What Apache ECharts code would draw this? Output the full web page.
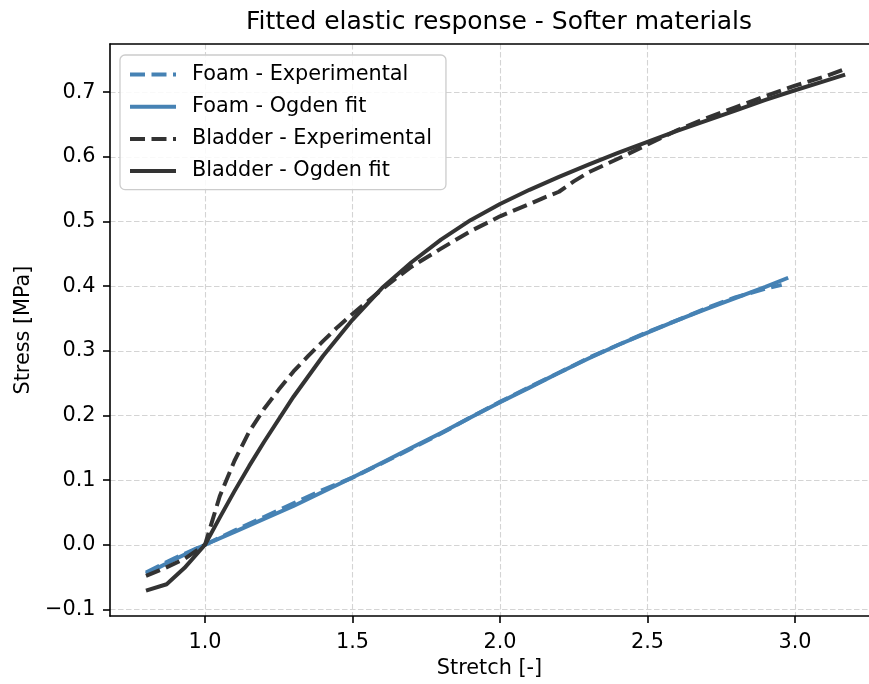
<!DOCTYPE html>
<html>
<head>
<meta charset="utf-8">
<script src="https://cdn.jsdelivr.net/npm/echarts@6/dist/echarts.min.js"></script>
<style>
  html, body { margin: 0; padding: 0; background: #fff; }
  #chart { width: 869px; height: 684px; }
</style>
</head>
<body>
<div id="chart"></div>
<script>
// ---- Data ----
const foamExpStretch = [0.80, 0.90, 1.00, 1.10, 1.20, 1.30, 1.40, 1.50, 1.60, 1.70, 1.80, 1.90, 2.00, 2.10, 2.20, 2.30, 2.40, 2.50, 2.60, 2.70, 2.80, 2.90, 2.955];
const foamExpStress  = [-0.043, -0.020, 0.000, 0.022, 0.043, 0.064, 0.085, 0.104, 0.126, 0.149, 0.172, 0.197, 0.221, 0.244, 0.266, 0.289, 0.309, 0.329, 0.347, 0.366, 0.383, 0.396, 0.402];

const foamFitStretch = [0.80, 0.90, 1.00, 1.10, 1.20, 1.30, 1.40, 1.50, 1.60, 1.70, 1.80, 1.90, 2.00, 2.10, 2.20, 2.30, 2.40, 2.50, 2.60, 2.70, 2.80, 2.90, 2.977];
const foamFitStress  = [-0.045, -0.022, 0.000, 0.020, 0.040, 0.060, 0.082, 0.104, 0.127, 0.150, 0.173, 0.197, 0.2205, 0.243, 0.266, 0.288, 0.309, 0.328, 0.347, 0.365, 0.382, 0.399, 0.413];

const bladderExpStretch = [0.80, 0.86, 0.93, 1.00, 1.05, 1.10, 1.15, 1.20, 1.25, 1.30, 1.35, 1.40, 1.45, 1.50, 1.55, 1.60, 1.65, 1.70, 1.80, 1.90, 2.00, 2.10, 2.15, 2.20, 2.25, 2.30, 2.40, 2.50, 2.60, 2.70, 2.80, 2.90, 3.00, 3.10, 3.165];
const bladderExpStress  = [-0.048, -0.037, -0.022, 0.000, 0.075, 0.130, 0.175, 0.210, 0.240, 0.268, 0.292, 0.315, 0.337, 0.357, 0.376, 0.395, 0.413, 0.430, 0.458, 0.485, 0.508, 0.527, 0.537, 0.546, 0.562, 0.576, 0.597, 0.619, 0.641, 0.660, 0.677, 0.694, 0.710, 0.724, 0.735];

const bladderFitStretch = [0.80, 0.87, 0.93, 1.00, 1.05, 1.10, 1.15, 1.20, 1.30, 1.40, 1.50, 1.60, 1.70, 1.80, 1.90, 2.00, 2.10, 2.20, 2.30, 2.40, 2.50, 2.60, 2.70, 2.80, 2.90, 3.00, 3.10, 3.17];
const bladderFitStress  = [-0.071, -0.061, -0.036, 0.000, 0.042, 0.083, 0.122, 0.159, 0.229, 0.292, 0.348, 0.397, 0.437, 0.472, 0.502, 0.527, 0.549, 0.569, 0.588, 0.606, 0.623, 0.640, 0.656, 0.672, 0.688, 0.703, 0.717, 0.727];

const xTicks = [1.0, 1.5, 2.0, 2.5, 3.0];
const yTicks = [-0.1, 0.0, 0.1, 0.2, 0.3, 0.4, 0.5, 0.6, 0.7];

const seriesNames = ['Foam - Experimental', 'Foam - Ogden fit', 'Bladder - Experimental', 'Bladder - Ogden fit'];

// ---- Build chart ----
const FONT = 'DejaVu Sans';
const BLUE = '#4682B4';
const DARK = '#333333';
const DASH = [15, 6.5];
const GRID_DASH = [5.5, 2.5];
const X_MIN = 0.678, X_MAX = 3.2509;
const Y_MIN = -0.1103, Y_MAX = 0.7745;

function pairs(xs, ys) { return xs.map((x, i) => [x, ys[i]]); }

function mkSeries(name, xs, ys, color, dashed, z) {
  return {
    type: 'line',
    name: name,
    data: pairs(xs, ys),
    symbol: 'none',
    smooth: false,
    z: z,
    lineStyle: { color: color, width: 4, type: dashed ? DASH : 'solid', cap: 'butt', join: 'round' },
    itemStyle: { color: color },
    emphasis: { disabled: true },
    animation: false
  };
}

const chart = echarts.init(document.getElementById('chart'), null, { renderer: 'canvas' });

const fmtY = v => (v < 0 ? '\u2212' : '') + Math.abs(v).toFixed(1);

chart.setOption({
  animation: false,
  backgroundColor: '#ffffff',
  title: {
    text: 'Fitted elastic response - Softer materials',
    left: 494,
    top: 5,
    textAlign: 'center',
    textStyle: { fontFamily: FONT, fontSize: 25, fontWeight: 'normal', color: '#000' }
  },
  legend: {
    show: true,
    data: seriesNames,
    orient: 'vertical',
    left: 120,
    top: 55,
    padding: [9, 14, 8, 8],
    itemGap: 11.2,
    itemWidth: 46,
    itemHeight: 14,
    itemStyle: { opacity: 0 },
    lineStyle: { width: 4 },
    backgroundColor: 'rgba(255,255,255,0.85)',
    borderColor: '#cccccc',
    borderWidth: 1.3,
    borderRadius: 5,
    textStyle: { fontFamily: FONT, fontSize: 20.8, color: '#000', lineHeight: 21, padding: [0, 0, 0, 11] },
    z: 10
  },
  grid: {
    left: 110,
    top: 44,
    right: 0,
    bottom: 66.5,
    show: false
  },
  xAxis: [{
    type: 'value',
    min: X_MIN,
    max: X_MAX,
    name: 'Stretch [-]',
    nameLocation: 'middle',
    nameGap: 31,
    nameTextStyle: { fontFamily: FONT, fontSize: 20.8, color: '#000' },
    axisLine: { show: true, onZero: false, lineStyle: { color: '#000', width: 1.6 } },
    axisTick: { show: true, inside: false, length: 7, customValues: xTicks, lineStyle: { color: '#000', width: 1.6 } },
    axisLabel: { show: true, customValues: xTicks, margin: 16, fontFamily: FONT, fontSize: 20.8, color: '#000', formatter: v => v.toFixed(1) },
    splitLine: { show: true, lineStyle: { color: '#d4d4d4', width: 1.1, type: GRID_DASH } }
  }, {
    type: 'value',
    position: 'top',
    min: X_MIN,
    max: X_MAX,
    axisLine: { show: true, onZero: false, lineStyle: { color: '#000', width: 1.6 } },
    axisTick: { show: false },
    axisLabel: { show: false },
    splitLine: { show: false }
  }],
  yAxis: {
    type: 'value',
    min: Y_MIN,
    max: Y_MAX,
    name: 'Stress [MPa]',
    nameLocation: 'middle',
    nameGap: 76,
    nameRotate: 90,
    nameTextStyle: { fontFamily: FONT, fontSize: 20.8, color: '#000' },
    axisLine: { show: true, onZero: false, lineStyle: { color: '#000', width: 1.6 } },
    axisTick: { show: true, inside: false, length: 7, customValues: yTicks, lineStyle: { color: '#000', width: 1.6 } },
    axisLabel: { show: true, customValues: yTicks, margin: 14.5, fontFamily: FONT, fontSize: 20.8, color: '#000', formatter: fmtY },
    splitLine: { show: true, lineStyle: { color: '#d4d4d4', width: 1.1, type: GRID_DASH } }
  },
  series: [
    mkSeries(seriesNames[0], foamExpStretch, foamExpStress, BLUE, true, 2),
    mkSeries(seriesNames[1], foamFitStretch, foamFitStress, BLUE, false, 3),
    mkSeries(seriesNames[2], bladderExpStretch, bladderExpStress, DARK, true, 4),
    mkSeries(seriesNames[3], bladderFitStretch, bladderFitStress, DARK, false, 5)
  ]
});
</script>
</body>
</html>
